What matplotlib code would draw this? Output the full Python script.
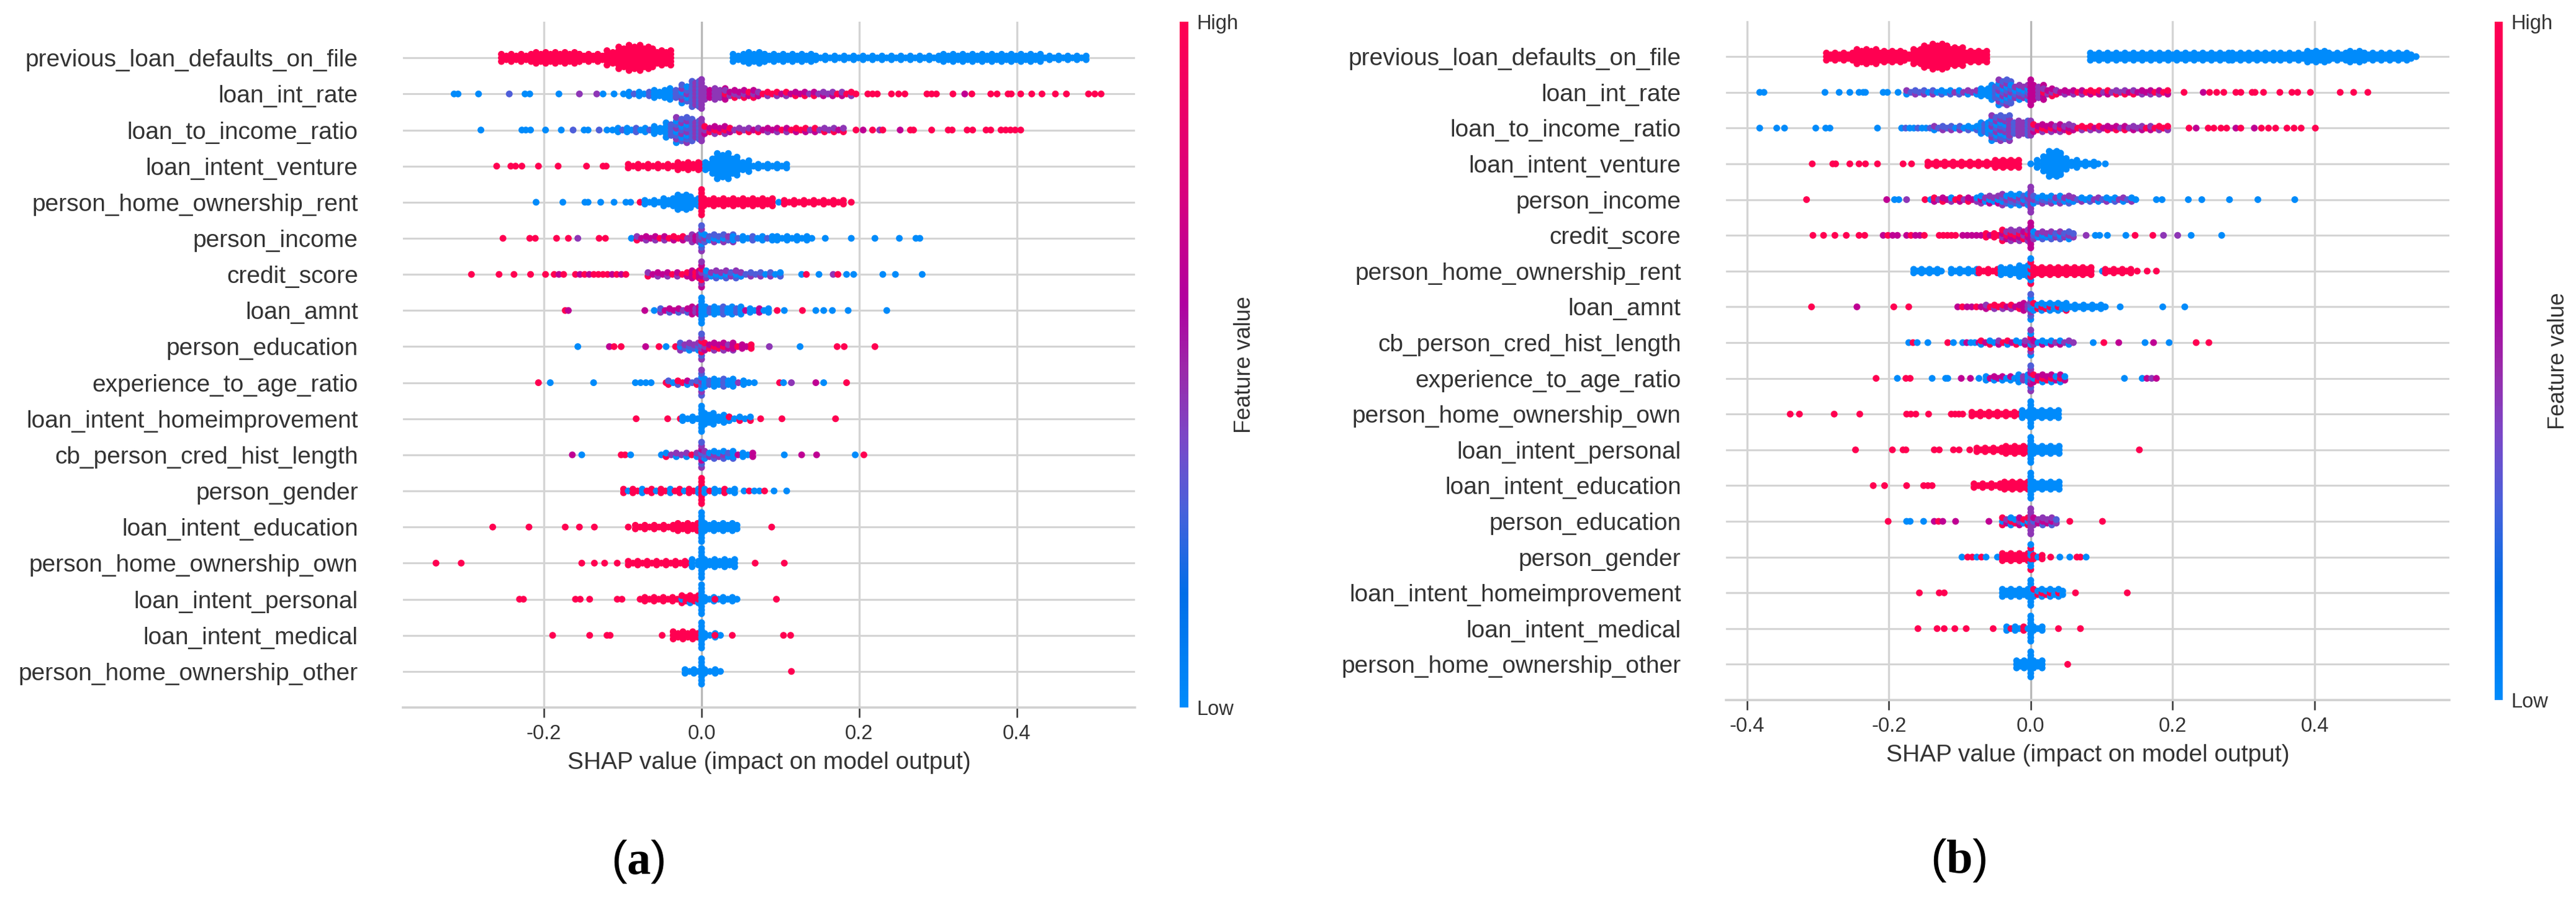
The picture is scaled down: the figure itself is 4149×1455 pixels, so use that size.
import numpy as np
import matplotlib.pyplot as plt
from matplotlib.colors import LinearSegmentedColormap

plt.rcParams['font.family'] = ['Liberation Sans', 'DejaVu Sans']
plt.rcParams['axes.unicode_minus'] = False
plt.rcParams['mathtext.fontset'] = 'custom'
plt.rcParams['mathtext.rm'] = 'Liberation Serif'
plt.rcParams['mathtext.bf'] = 'Liberation Serif:bold'

# feature value shorthands (0 = low, 1 = high)
B, V, P, M, R = 0.0, 0.3, 0.45, 0.65, 1.0

# Each row: (x, colour) = single dot, (x0, x1, n, colour) = band of dots n deep
features_a = ["previous_loan_defaults_on_file", "loan_int_rate", "loan_to_income_ratio",
              "loan_intent_venture", "person_home_ownership_rent", "person_income",
              "credit_score", "loan_amnt", "person_education", "experience_to_age_ratio",
              "loan_intent_homeimprovement", "cb_person_cred_hist_length", "person_gender",
              "loan_intent_education", "person_home_ownership_own", "loan_intent_personal",
              "loan_intent_medical", "person_home_ownership_other"]

features_b = ["previous_loan_defaults_on_file", "loan_int_rate", "loan_to_income_ratio",
              "loan_intent_venture", "person_income", "credit_score",
              "person_home_ownership_rent", "loan_amnt", "cb_person_cred_hist_length",
              "experience_to_age_ratio", "person_home_ownership_own", "loan_intent_personal",
              "loan_intent_education", "person_education", "person_gender",
              "loan_intent_homeimprovement", "loan_intent_medical", "person_home_ownership_other"]

# ---- panel (a) ----
a_defaults = [(-0.254, -0.21, 3, R), (-0.21, -0.155, 4, R), (-0.155, -0.12, 3, R),
              (-0.12, -0.105, 5, R), (-0.105, -0.092, 7, R), (-0.092, -0.078, 8, R),
              (-0.078, -0.062, 7, R), (-0.062, -0.039, 5, R),
              (0.040, 0.060, 3, B), (0.060, 0.080, 4, B), (0.080, 0.145, 3, B),
              (0.145, 0.307, 2, B), (0.307, 0.43, 3, B), (0.43, 0.488, 2, B)]
a_int_rate = [(-0.314, B), (-0.309, B), (-0.283, B), (-0.244, V), (-0.224, B), (-0.218, B),
              (-0.181, B), (-0.155, P), (-0.133, P), (-0.125, B), (-0.111, B), (-0.099, B),
              (-0.092, -0.06, 2, [B, V]), (-0.06, -0.04, 3, B), (-0.04, -0.025, 4, [B, V]),
              (-0.025, -0.012, 6, [B, V, P]), (-0.012, -0.003, 8, [V, P]), (0.0, 0.0, 9, P),
              (0.004, 0.03, 4, [P, M]), (0.03, 0.072, 3, [M, P, R]), (0.072, 0.19, 2, [M, R, P]),
              (0.196, R), (0.211, R), (0.217, R), (0.223, R), (0.241, R), (0.250, R), (0.258, R),
              (0.286, R), (0.292, R), (0.298, R), (0.319, R), (0.334, M), (0.343, R), (0.367, R),
              (0.375, R), (0.389, R), (0.393, R), (0.405, R), (0.419, R), (0.432, R), (0.449, R),
              (0.463, R), (0.491, R), (0.499, R), (0.507, R)]
a_loan_income = [(-0.280, B), (-0.228, B), (-0.223, B), (-0.217, B), (-0.198, B), (-0.178, B),
                 (-0.163, V), (-0.149, B), (-0.144, B), (-0.130, V), (-0.120, B), (-0.113, B),
                 (-0.106, -0.06, 2, [B, V]), (-0.06, -0.045, 3, B), (-0.045, -0.032, 5, [B, V]),
                 (-0.032, -0.012, 8, [B, V, P]), (-0.012, -0.003, 6, [V, P]), (0.0, 0.0, 7, P),
                 (0.004, 0.036, 3, [M, R, P]), (0.036, 0.18, 2, [M, P, R]),
                 (0.196, R), (0.205, M), (0.217, R), (0.226, P), (0.230, R), (0.252, M),
                 (0.265, R), (0.269, R), (0.292, R), (0.313, R), (0.318, R), (0.337, R),
                 (0.344, R), (0.361, R), (0.367, R), (0.380, R), (0.386, R), (0.392, R),
                 (0.398, R), (0.405, R)]
a_venture = [(-0.260, R), (-0.242, R), (-0.236, R), (-0.228, R), (-0.207, R), (-0.182, R),
             (-0.146, R), (-0.125, R), (-0.121, R),
             (-0.093, -0.03, 2, R), (-0.03, -0.004, 3, R), (0.0, 0.0, 2, [R, B]),
             (0.005, 0.014, 3, B), (0.014, 0.02, 5, B), (0.02, 0.034, 8, B), (0.034, 0.045, 6, B),
             (0.045, 0.06, 4, B), (0.06, 0.108, 2, B)]
a_rent = [(-0.210, B), (-0.176, B), (-0.148, B), (-0.144, B), (-0.128, B), (-0.111, B),
          (-0.096, B), (-0.090, B), (-0.078, R),
          (-0.072, -0.048, 2, B), (-0.048, -0.030, 3, B), (-0.030, -0.014, 5, B),
          (-0.014, -0.004, 3, B), (0.0, 0.0, 8, [R, R, R, B]),
          (0.003, 0.09, 3, R), (0.098, B), (0.105, 0.18, 2, R), (0.190, R)]
a_income = [(-0.252, R), (-0.218, R), (-0.211, R), (-0.184, R), (-0.169, R), (-0.157, P),
            (-0.130, R), (-0.122, R), (-0.089, B),
            (-0.082, -0.012, 2, [R, M, P]), (-0.012, -0.003, 3, [P, M]), (0.0, 0.0, 8, [P, B, V]),
            (0.004, 0.04, 3, [V, B, P]), (0.04, 0.096, 2, [B, V]), (0.096, 0.14, 2, B),
            (0.157, B), (0.190, B), (0.220, B), (0.251, B), (0.272, B), (0.277, B)]
a_credit = [(-0.292, R), (-0.257, R), (-0.238, R), (-0.217, R), (-0.198, R),
            (-0.187, -0.175, 1, [R, M]), (-0.160, -0.096, 1, [R, M, R]),
            (-0.068, -0.012, 2, [R, M, P]), (-0.012, -0.003, 3, [M, R]), (0.0, 0.0, 8, [M, R, P]),
            (0.006, 0.05, 3, [P, B, V]), (0.05, 0.1, 2, [B, V, P]), (0.127, B), (0.133, R),
            (0.149, B), (0.167, P), (0.173, R), (0.184, B), (0.193, B), (0.230, B), (0.246, B),
            (0.280, B)]
a_amnt = [(-0.173, R), (-0.169, M), (-0.072, M), (-0.060, B),
          (-0.052, -0.012, 2, [P, M, V]), (-0.012, -0.003, 3, [M, P]), (0.0, 0.0, 8, [B, M, B, P]),
          (0.005, 0.05, 3, [B, V]), (0.05, 0.085, 2, [B, M]), (0.096, R), (0.105, B),
          (0.128, R), (0.145, B), (0.155, B), (0.166, B), (0.186, B), (0.235, B)]
a_education = [(-0.157, B), (-0.117, M), (-0.111, R), (-0.102, R), (-0.071, M), (-0.054, R),
               (-0.045, B), (-0.033, R),
               (-0.027, -0.004, 3, [P, V, B]), (0.0, 0.0, 8, [P, R, V]),
               (0.004, 0.04, 3, [M, R, P]), (0.04, 0.063, 2, [M, R]), (0.086, P), (0.125, B),
               (0.172, R), (0.181, R), (0.220, R)]
a_experience = [(-0.207, R), (-0.192, B), (-0.137, B), (-0.084, -0.064, 1, B), (-0.045, R),
                (-0.042, -0.006, 2, [R, B, V, M]), (0.0, 0.0, 8, [V, B, P]),
                (0.004, 0.04, 3, [B, V]), (0.04, 0.06, 2, [B, P]), (0.067, B), (0.099, R),
                (0.104, B), (0.114, P), (0.145, M), (0.155, B), (0.184, R)]
a_homeimp = [(-0.083, R), (-0.043, R), (-0.027, R), (-0.024, -0.005, 2, B), (0.0, 0.0, 8, B),
             (0.004, 0.015, 4, B), (0.015, 0.035, 3, B), (0.035, 0.062, 2, [B, B, R]),
             (0.075, R), (0.102, R), (0.170, R)]
a_cred_hist = [(-0.164, M), (-0.152, B), (-0.102, R), (-0.097, R), (-0.090, B), (-0.051, B),
               (-0.045, -0.006, 2, [R, P, B]), (0.0, 0.0, 8, [P, M, V]),
               (0.004, 0.04, 3, [B, P, V]), (0.04, 0.065, 2, [B, M]), (0.105, B), (0.127, M),
               (0.146, M), (0.195, B), (0.206, R)]
a_gender = [(-0.099, -0.004, 2, [R, B]), (0.0, 0.0, 8, [R, B]), (0.004, 0.042, 2, [B, R]),
            (0.054, 0.08, 1, [B, R]), (0.092, B), (0.108, B)]
a_edu_intent = [(-0.265, R), (-0.219, R), (-0.173, R), (-0.155, R), (-0.136, R), (-0.093, R),
                (-0.084, -0.03, 2, R), (-0.03, -0.005, 3, R), (0.0, 0.0, 9, B),
                (0.004, 0.045, 3, B), (0.089, R)]
a_own = [(-0.337, R), (-0.305, R), (-0.152, R), (-0.136, R), (-0.123, R), (-0.107, R),
         (-0.093, -0.015, 2, R), (-0.012, -0.004, 3, B), (0.0, 0.0, 9, B),
         (0.004, 0.042, 3, B), (0.068, R), (0.105, R)]
a_personal = [(-0.231, R), (-0.226, R), (-0.160, R), (-0.154, R), (-0.142, R), (-0.107, R),
              (-0.101, R), (-0.078, R), (-0.072, -0.025, 2, R), (-0.025, -0.004, 3, [R, R, B]),
              (0.0, 0.0, 9, B), (0.004, 0.045, 2, B), (0.017, R), (0.095, R)]
a_medical = [(-0.189, R), (-0.142, R), (-0.120, R), (-0.116, R), (-0.050, R),
             (-0.036, -0.005, 3, R), (0.0, 0.0, 8, B), (0.004, 0.024, 2, B), (0.017, R),
             (0.039, R), (0.104, R), (0.113, R)]
a_other = [(-0.021, -0.004, 2, B), (0.0, 0.0, 8, B), (0.004, 0.024, 2, B), (0.114, R)]

# ---- panel (b) ----
b_defaults = [(-0.288, -0.245, 3, R), (-0.245, -0.218, 5, R), (-0.218, -0.178, 4, R),
              (-0.178, -0.165, 3, R), (-0.165, -0.150, 5, R), (-0.150, -0.138, 7, R),
              (-0.138, -0.118, 8, R), (-0.118, -0.096, 6, R), (-0.096, -0.062, 4, R),
              (0.084, 0.279, 3, B), (0.284, 0.348, 3, B), (0.352, 0.39, 3, B),
              (0.39, 0.42, 4, B), (0.42, 0.45, 3, B), (0.45, 0.47, 4, B), (0.47, 0.536, 3, B),
              (0.543, B)]
b_int_rate = [(-0.382, B), (-0.376, B), (-0.290, B), (-0.270, B), (-0.255, B), (-0.242, B),
              (-0.236, B), (-0.233, B), (-0.208, B), (-0.202, B), (-0.187, B),
              (-0.175, -0.07, 2, [B, V, P]), (-0.07, -0.055, 3, B), (-0.055, -0.045, 5, [B, V]),
              (-0.045, -0.028, 8, [B, V, P]), (-0.028, -0.004, 5, [V, P, B]), (0.0, 0.0, 8, [M, P]),
              (0.004, 0.018, 5, [M, P]), (0.018, 0.036, 3, [M, P, R]), (0.036, 0.193, 2, [R, M, P]),
              (0.216, R), (0.243, M), (0.252, R), (0.262, R), (0.272, R), (0.289, R), (0.296, R),
              (0.312, R), (0.316, R), (0.328, R), (0.351, R), (0.368, R), (0.376, R), (0.394, R),
              (0.436, R), (0.455, R), (0.475, R)]
b_loan_income = [(-0.382, B), (-0.358, B), (-0.347, B), (-0.303, B), (-0.289, B), (-0.283, B),
                 (-0.216, B), (-0.182, -0.136, 1, [B, V]), (-0.136, -0.07, 2, [B, V, P]),
                 (-0.07, -0.055, 4, [B, V]), (-0.055, -0.030, 8, [B, V, P]),
                 (-0.030, -0.004, 5, [P, V]), (0.0, 0.0, 5, [P, M]),
                 (0.004, 0.06, 3, [M, R, P]), (0.06, 0.193, 2, [M, R, P]),
                 (0.223, R), (0.233, M), (0.250, R), (0.258, R), (0.268, R), (0.276, R),
                 (0.289, M), (0.296, R), (0.315, M), (0.325, R), (0.335, R), (0.345, R),
                 (0.361, R), (0.371, R), (0.381, R), (0.401, R)]
b_venture = [(-0.308, R), (-0.279, R), (-0.275, R), (-0.255, R), (-0.242, R), (-0.233, R),
             (-0.216, R), (-0.180, R), (-0.168, R),
             (-0.145, -0.05, 2, R), (-0.05, -0.017, 3, R), (0.0, B),
             (0.009, 0.018, 3, B), (0.018, 0.026, 5, B), (0.026, 0.042, 8, B), (0.042, 0.05, 5, B),
             (0.05, 0.065, 3, B), (0.065, 0.095, 2, B), (0.105, B)]
b_income = [(-0.316, R), (-0.203, M), (-0.192, B), (-0.186, B), (-0.175, P), (-0.149, R),
            (-0.141, B), (-0.136, -0.07, 2, [M, P, R, B]), (-0.07, -0.04, 3, [P, B, M]),
            (-0.04, -0.004, 4, [P, V, B]), (0.0, 0.0, 8, [P, V]),
            (0.004, 0.06, 3, [B, V, P]), (0.06, 0.148, 2, [B, V, P, B]), (0.177, B), (0.185, B),
            (0.222, B), (0.241, B), (0.280, B), (0.320, B), (0.372, B)]
b_credit = [(-0.307, R), (-0.292, R), (-0.276, R), (-0.260, R), (-0.242, R), (-0.234, R),
            (-0.208, -0.188, 1, [M, R]), (-0.175, -0.150, 1, [M, R]), (-0.129, -0.106, 1, R),
            (-0.096, -0.07, 1, M), (-0.063, -0.04, 2, [R, M]), (-0.04, -0.004, 4, [R, M, P]),
            (0.0, 0.0, 8, [M, P]), (0.004, 0.06, 3, [P, B, V]), (0.078, P), (0.091, B),
            (0.097, B), (0.108, B), (0.134, B), (0.147, R), (0.172, R), (0.187, P), (0.207, P),
            (0.226, B), (0.269, B)]
b_rent = [(-0.165, -0.126, 2, B), (-0.112, -0.076, 2, B), (-0.073, -0.047, 2, R),
          (-0.042, -0.016, 3, B), (-0.016, -0.004, 4, B), (0.0, 0.0, 8, [R, R, B, B]),
          (0.004, 0.085, 3, R), (0.101, B), (0.105, 0.141, 2, R), (0.150, R), (0.164, R),
          (0.177, R)]
b_amnt = [(-0.309, R), (-0.245, M), (-0.193, R), (-0.172, R), (-0.103, -0.07, 1, [M, R]),
          (-0.063, -0.010, 2, [M, R, P]), (-0.010, -0.004, 3, [M, P]), (0.0, 0.0, 8, [B, P, V]),
          (0.004, 0.05, 3, [B, R, B]), (0.05, 0.105, 2, B), (0.126, B), (0.186, B), (0.217, B)]
b_cred_hist = [(-0.172, B), (-0.166, R), (-0.160, B), (-0.145, B), (-0.117, R), (-0.109, B),
               (-0.096, -0.073, 1, [B, M]), (-0.070, -0.008, 2, [B, M, R, P]),
               (0.0, 0.0, 8, [B, R, P]), (0.004, 0.06, 2, [P, B, M]), (0.088, B), (0.103, R),
               (0.124, M), (0.161, B), (0.173, M), (0.195, B), (0.233, R), (0.251, R)]
b_experience = [(-0.218, R), (-0.188, B), (-0.176, R), (-0.170, R), (-0.139, B), (-0.120, B),
                (-0.117, B), (-0.098, M), (-0.085, M), (-0.073, B),
                (-0.063, -0.017, 2, [B, M, B]), (-0.017, -0.004, 3, [B, P]),
                (0.0, 0.0, 8, [P, M, V]), (0.004, 0.048, 3, [M, R, B]), (0.132, B),
                (0.157, 0.177, 1, [B, M, P])]
b_own = [(-0.339, R), (-0.326, R), (-0.277, R), (-0.241, R), (-0.175, R), (-0.169, R),
         (-0.162, R), (-0.144, R), (-0.112, -0.096, 1, R), (-0.083, -0.017, 2, R),
         (-0.012, -0.004, 3, B), (0.0, 0.0, 8, B), (0.004, 0.039, 3, B)]
b_personal = [(-0.247, R), (-0.195, R), (-0.180, R), (-0.176, R), (-0.136, R), (-0.129, R),
              (-0.109, R), (-0.101, R), (-0.086, R), (-0.076, -0.035, 2, R),
              (-0.035, -0.004, 3, R), (0.0, 0.0, 8, B), (0.004, 0.04, 3, B), (0.153, R)]
b_edu_intent = [(-0.222, R), (-0.206, R), (-0.175, R), (-0.151, R), (-0.145, R), (-0.139, R),
                (-0.080, -0.037, 2, R), (-0.037, -0.004, 3, R), (0.0, 0.0, 8, B),
                (0.004, 0.040, 3, B)]
b_education = [(-0.201, R), (-0.175, B), (-0.170, B), (-0.151, B), (-0.136, M), (-0.130, R),
               (-0.124, M), (-0.106, M), (-0.059, M), (-0.04, -0.004, 3, [R, M, B, P]),
               (0.0, 0.0, 8, [P, V]), (0.004, 0.036, 3, [P, M, V]), (0.055, R), (0.101, R)]
b_gender = [(-0.097, B), (-0.089, -0.063, 1, [R, R, B]), (-0.047, B), (-0.040, -0.004, 3, R),
            (0.0, 0.0, 8, [R, B, B]), (0.004, 0.016, 2, [R, B]), (0.028, R), (0.041, B),
            (0.055, B), (0.065, R), (0.070, R), (0.078, B)]
b_homeimp = [(-0.157, R), (-0.129, R), (-0.122, R), (-0.040, -0.004, 3, B), (0.0, 0.0, 8, B),
             (0.004, 0.045, 3, [B, R, B]), (0.063, R), (0.136, R)]
b_medical = [(-0.159, R), (-0.132, R), (-0.122, R), (-0.107, R), (-0.091, R), (-0.053, R),
             (-0.034, -0.004, 2, [B, R]), (0.0, 0.0, 8, B), (0.004, 0.016, 2, B), (0.039, R),
             (0.070, R)]
b_other = [(-0.020, -0.004, 3, B), (0.0, 0.0, 8, B), (0.004, 0.016, 3, B), (0.052, R)]

rows_a = [a_defaults, a_int_rate, a_loan_income, a_venture, a_rent, a_income, a_credit,
          a_amnt, a_education, a_experience, a_homeimp, a_cred_hist, a_gender, a_edu_intent,
          a_own, a_personal, a_medical, a_other]
rows_b = [b_defaults, b_int_rate, b_loan_income, b_venture, b_income, b_credit, b_rent,
          b_amnt, b_cred_hist, b_experience, b_own, b_personal, b_edu_intent, b_education,
          b_gender, b_homeimp, b_medical, b_other]

# shap-like red/blue colour map
red_blue = LinearSegmentedColormap.from_list('red_blue', [
    (0.00, '#008bfb'), (0.165, '#006ee8'), (0.29, '#4a60da'), (0.39, '#7a48c8'),
    (0.49, '#9a2aaa'), (0.59, '#b000a0'), (0.75, '#d8007e'), (1.00, '#ff0051')])


def swarm_points(rows, step=0.006, dy=0.1):
    # lay the dots of each band out as a beeswarm row: columns across, stacked up/down
    xs, ys, cs = [], [], []
    n_rows = len(rows)
    for idx, segs in enumerate(rows):
        y0 = n_rows - 1 - idx
        for seg in segs:
            if len(seg) == 2:
                x0, x1, n, col = seg[0], seg[0], 1, seg[1]
            else:
                x0, x1, n, col = seg
            cols = col if isinstance(col, list) else [col]
            ncol = int(round((x1 - x0) / step)) + 1
            for i, x in enumerate(np.linspace(x0, x1, ncol)):
                depth = n - 1 if (ncol > 1 and n > 1 and i % 2) else n
                for k in range(depth):
                    xs.append(x)
                    ys.append(y0 + (k - (depth - 1) / 2) * dy)
                    cs.append(cols[(i + 2 * k + i // 3) % len(cols)])
    return np.array(xs), np.array(ys), np.array(cs)


def draw_panel(fig, rect, cbar_rect, features, rows, xlim, xticks):
    ax = fig.add_axes(rect)
    n = len(features)
    ax.set_xlim(*xlim)
    ax.set_ylim(-1, n)
    for y in range(n):
        ax.axhline(y, color='#d4d4d4', lw=2.2, zorder=1)
    for xt in xticks:
        ax.axvline(xt, color='#b8b8b8' if xt == 0 else '#d4d4d4', lw=2.4, zorder=1)
    xs, ys, cs = swarm_points(rows)
    ax.scatter(xs, ys, c=cs, cmap=red_blue, vmin=0, vmax=1, s=62, linewidths=0, zorder=3)

    ax.set_yticks(range(n))
    ax.set_yticklabels(features[::-1], fontsize=28, color='#333333')
    ax.tick_params(axis='y', length=0, pad=52)
    ax.set_xticks(xticks)
    ax.tick_params(axis='x', labelsize=23.5, labelcolor='#333333', color='#333333',
                   length=11.5, width=1.8, pad=8)
    for s in ['top', 'right', 'left']:
        ax.spines[s].set_visible(False)
    ax.spines['bottom'].set_color('#d0d0d0')
    ax.spines['bottom'].set_linewidth(2.6)
    ax.set_xlabel('SHAP value (impact on model output)', fontsize=28, color='#333333',
                  labelpad=9)

    cax = fig.add_axes(cbar_rect)
    sm = plt.cm.ScalarMappable(cmap=red_blue, norm=plt.Normalize(0, 1))
    cb = fig.colorbar(sm, cax=cax, ticks=[0, 1])
    cb.set_ticklabels(['Low', 'High'])
    cb.ax.tick_params(labelsize=23.5, length=0, pad=10, labelcolor='#333333')
    cb.outline.set_visible(False)
    cb.set_label('Feature value', size=26, color='#333333', labelpad=-6)
    return ax


fig = plt.figure(figsize=(41.49, 14.55), dpi=100)
draw_panel(fig, [0.1564, 0.2165, 0.2842, 0.7594], [0.4579, 0.2165, 0.0034, 0.7594],
           features_a, rows_a, (-0.379, 0.55), [-0.2, 0.0, 0.2, 0.4])
draw_panel(fig, [0.6700, 0.2247, 0.2808, 0.7522], [0.9684, 0.2247, 0.0031, 0.7512],
           features_b, rows_b, (-0.4296, 0.5897), [-0.4, -0.2, 0.0, 0.2, 0.4])

fig.text(0.2475, 0.0454, r'($\mathbf{a}$)', fontsize=55, ha='center', va='center')
fig.text(0.7602, 0.0474, r'($\mathbf{b}$)', fontsize=55, ha='center', va='center')

fig.savefig('out.png', dpi=100)
